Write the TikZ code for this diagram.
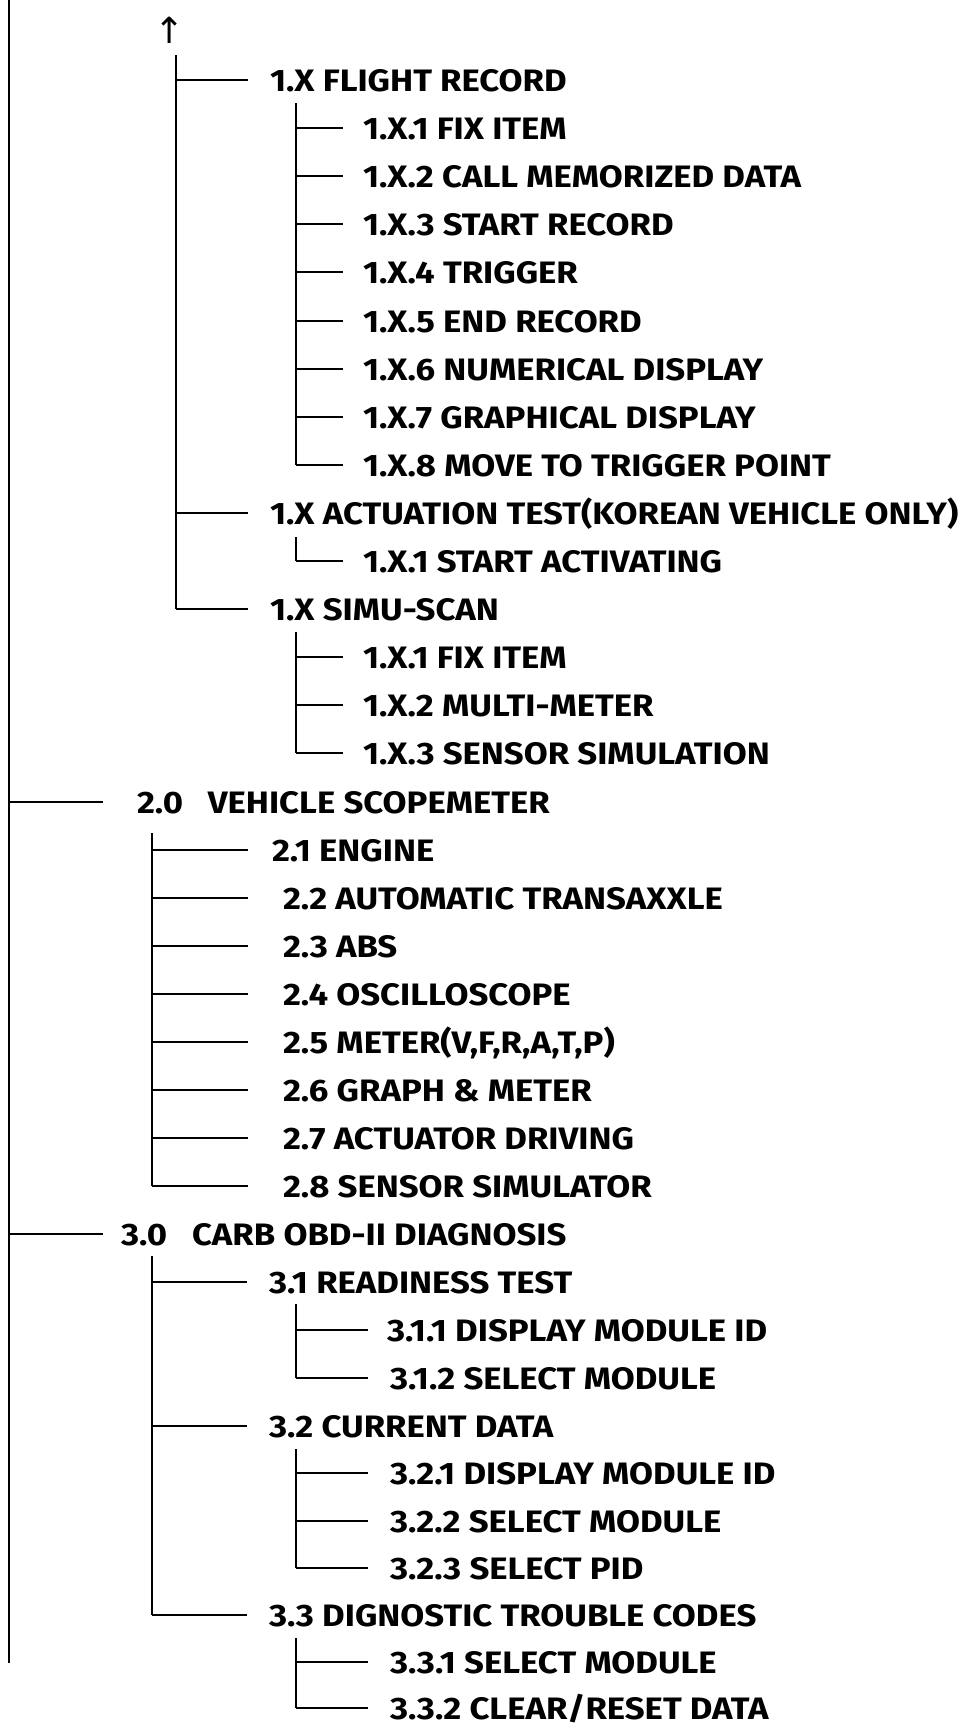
\documentclass[tikz,border=0pt]{standalone}
\usepackage{fontspec}
\setmainfont{Fira Sans}[FakeStretch=1.12]
\newfontfamily\symfont{DejaVu Sans}
\usepackage{tikz}

\begin{document}
\begin{tikzpicture}[x=1pt, y=-1pt, line width=2pt,
  every node/.style={font=\fontsize{31}{36}\selectfont\bfseries}]
\tikzstyle{lbl}=[anchor=west, inner sep=0pt, text height=22pt, text depth=0pt]
\useasboundingbox (0,0) rectangle (968,1724);

% main trunk
\coordinate (m0) at (9,0);
\coordinate (m1) at (9,1663);
\draw[line width=2.6pt] (m0)--(m1);
\node[font=\symfont\fontsize{36}{40}\selectfont] (up) at (170,30) {↑};

% 1.X branches
\coordinate (t1) at (176,55);
\node[lbl] (fr) at (269,80) {1.X FLIGHT RECORD};
\node[lbl] (fr1) at (362,128) {1.X.1 FIX ITEM};
\node[lbl] (fr2) at (362,176) {1.X.2 CALL MEMORIZED DATA};
\node[lbl] (fr3) at (362,224) {1.X.3 START RECORD};
\node[lbl] (fr4) at (362,272) {1.X.4 TRIGGER};
\node[lbl] (fr5) at (362,321) {1.X.5 END RECORD};
\node[lbl] (fr6) at (362,369) {1.X.6 NUMERICAL DISPLAY};
\node[lbl] (fr7) at (362,417) {1.X.7 GRAPHICAL DISPLAY};
\node[lbl] (fr8) at (362,465) {1.X.8 MOVE TO TRIGGER POINT};
\node[lbl] (act) at (269,513) {1.X ACTUATION TEST(KOREAN VEHICLE ONLY)};
\node[lbl] (act1) at (362,561) {1.X.1 START ACTIVATING};
\node[lbl] (sim) at (269,609) {1.X SIMU-SCAN};
\node[lbl] (sim1) at (362,657) {1.X.1 FIX ITEM};
\node[lbl] (sim2) at (362,705) {1.X.2 MULTI-METER};
\node[lbl] (sim3) at (362,753) {1.X.3 SENSOR SIMULATION};

\draw (t1)--(sim.west -| t1);
\draw[shorten >=21pt] (fr.west -| t1)--(fr.west);
\draw[shorten >=21pt] (act.west -| t1)--(act.west);
\draw[shorten >=21pt] (sim.west -| t1)--(sim.west);

\coordinate (t2) at (296,103);
\draw (t2)--(fr8.west -| t2);
\draw[shorten >=19pt] (fr1.west -| t2)--(fr1.west);
\draw[shorten >=19pt] (fr2.west -| t2)--(fr2.west);
\draw[shorten >=19pt] (fr3.west -| t2)--(fr3.west);
\draw[shorten >=19pt] (fr4.west -| t2)--(fr4.west);
\draw[shorten >=19pt] (fr5.west -| t2)--(fr5.west);
\draw[shorten >=19pt] (fr6.west -| t2)--(fr6.west);
\draw[shorten >=19pt] (fr7.west -| t2)--(fr7.west);
\draw[shorten >=19pt] (fr8.west -| t2)--(fr8.west);

\coordinate (t3) at (296,537);
\draw (t3)--(act1.west -| t3);
\draw[shorten >=19pt] (act1.west -| t3)--(act1.west);

\coordinate (t4) at (296,632);
\draw (t4)--(sim3.west -| t4);
\draw[shorten >=19pt] (sim1.west -| t4)--(sim1.west);
\draw[shorten >=19pt] (sim2.west -| t4)--(sim2.west);
\draw[shorten >=19pt] (sim3.west -| t4)--(sim3.west);

% 2.0 scopemeter
\node[lbl] (vs) at (136,802) {2.0\hspace{0.8em}VEHICLE SCOPEMETER};
\node[lbl] (vs1) at (271,850) {2.1 ENGINE};
\node[lbl] (vs2) at (282,898) {2.2 AUTOMATIC TRANSAXXLE};
\node[lbl] (vs3) at (282,946) {2.3 ABS};
\node[lbl] (vs4) at (282,994) {2.4 OSCILLOSCOPE};
\node[lbl] (vs5) at (282,1042) {2.5 METER(V,F,R,A,T,P)};
\node[lbl] (vs6) at (282,1090) {2.6 GRAPH \& METER};
\node[lbl] (vs7) at (282,1138) {2.7 ACTUATOR DRIVING};
\node[lbl] (vs8) at (282,1186) {2.8 SENSOR SIMULATOR};

\draw[shorten >=33pt] (vs.west -| m0)--(vs.west);
\coordinate (t5) at (152,833);
\draw (t5)--(vs8.west -| t5);
\draw[shorten >=23pt] (vs1.west -| t5)--(vs1.west);
\draw[shorten >=34pt] (vs2.west -| t5)--(vs2.west);
\draw[shorten >=34pt] (vs3.west -| t5)--(vs3.west);
\draw[shorten >=34pt] (vs4.west -| t5)--(vs4.west);
\draw[shorten >=34pt] (vs5.west -| t5)--(vs5.west);
\draw[shorten >=34pt] (vs6.west -| t5)--(vs6.west);
\draw[shorten >=34pt] (vs7.west -| t5)--(vs7.west);
\draw[shorten >=34pt] (vs8.west -| t5)--(vs8.west);

% 3.0 obd-ii
\node[lbl] (ob) at (120,1234) {3.0\hspace{0.8em}CARB OBD-II DIAGNOSIS};
\node[lbl] (rd) at (268,1282) {3.1 READINESS TEST};
\node[lbl] (rd1) at (386,1330) {3.1.1 DISPLAY MODULE ID};
\node[lbl] (rd2) at (389,1378) {3.1.2 SELECT MODULE};
\node[lbl] (cd) at (268,1426) {3.2 CURRENT DATA};
\node[lbl] (cd1) at (389,1473) {3.2.1 DISPLAY MODULE ID};
\node[lbl] (cd2) at (389,1521) {3.2.2 SELECT MODULE};
\node[lbl] (cd3) at (389,1568) {3.2.3 SELECT PID};
\node[lbl] (dtc) at (268,1615) {3.3 DIGNOSTIC TROUBLE CODES};
\node[lbl] (dtc1) at (389,1662) {3.3.1 SELECT MODULE};
\node[lbl] (dtc2) at (389,1708) {3.3.2 CLEAR/RESET DATA};

\draw[shorten >=17pt] (ob.west -| m0)--(ob.west);
\coordinate (t6) at (152,1256);
\draw (t6)--(dtc.west -| t6);
\draw[shorten >=21pt] (rd.west -| t6)--(rd.west);
\draw[shorten >=21pt] (cd.west -| t6)--(cd.west);
\draw[shorten >=21pt] (dtc.west -| t6)--(dtc.west);

\coordinate (t7) at (296,1304);
\draw (t7)--(rd2.west -| t7);
\draw[shorten >=18pt] (rd1.west -| t7)--(rd1.west);
\draw[shorten >=21pt] (rd2.west -| t7)--(rd2.west);

\coordinate (t8) at (296,1449);
\draw (t8)--(cd3.west -| t8);
\draw[shorten >=21pt] (cd1.west -| t8)--(cd1.west);
\draw[shorten >=21pt] (cd2.west -| t8)--(cd2.west);
\draw[shorten >=21pt] (cd3.west -| t8)--(cd3.west);

\coordinate (t9) at (296,1638);
\draw (t9)--(dtc2.west -| t9);
\draw[shorten >=21pt] (dtc1.west -| t9)--(dtc1.west);
\draw[shorten >=21pt] (dtc2.west -| t9)--(dtc2.west);
\end{tikzpicture}
\end{document}
